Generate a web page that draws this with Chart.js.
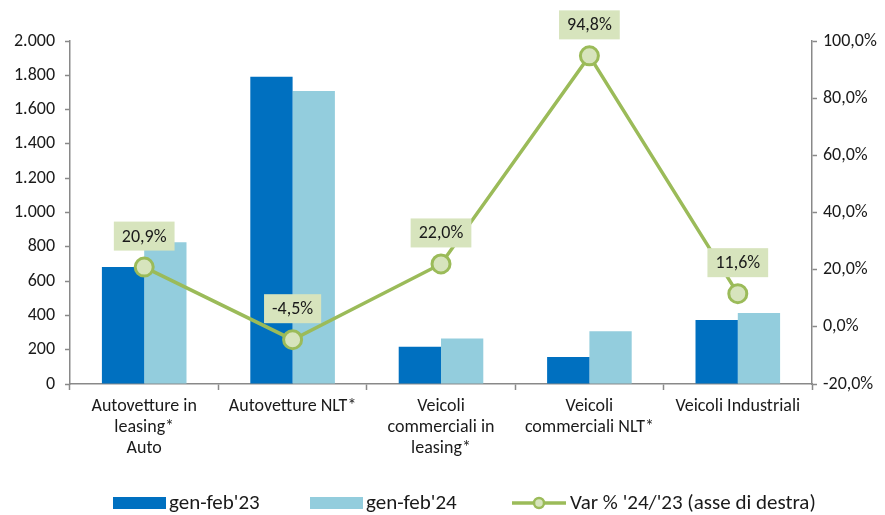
<!DOCTYPE html>
<html>
<head>
<meta charset="utf-8">
<script src="https://cdn.jsdelivr.net/npm/chart.js@4.4.1/dist/chart.umd.min.js"></script>
<style>
  html, body { margin: 0; padding: 0; background: #fff; }
  #wrap { width: 885px; height: 515px; }
</style>
</head>
<body>
<div id="wrap"><canvas id="chart" width="885" height="515"></canvas></div>
<script>
// Data
const categories = [
    ["Autovetture in", "leasing*", "Auto"],
    ["Autovetture NLT*"],
    ["Veicoli", "commerciali in", "leasing*"],
    ["Veicoli", "commerciali NLT*"],
    ["Veicoli Industriali"]
];
const gen23 = [682, 1792, 217, 157, 373];
const gen24 = [826, 1708, 266, 307, 414];
const varPct = [20.9, -4.5, 22.0, 94.8, 11.6];
const seriesNames = ["gen-feb'23", "gen-feb'24", "Var % '24/'23 (asse di destra)"];

const FONT = "Carlito, Lato, 'Open Sans', sans-serif";
const DARK = '#0070C0';
const LIGHT = '#93CDDD';
const GREEN = '#9BBB59';
const PALE = '#D7E4BD';
const AXIS = '#898989';

function fmtThousands(v) {
    return String(v).replace(/\B(?=(\d{3})+(?!\d))/g, '.');
}
function fmtPct(v, d) {
    return v.toFixed(d).replace('.', ',') + '%';
}

// Labels above the line points
const pctLabels = {
    id: 'pctLabels',
    afterDatasetsDraw(chart) {
        const ctx = chart.ctx;
        const meta = chart.getDatasetMeta(0);
        ctx.save();
        ctx.font = '18px ' + FONT;
        ctx.textAlign = 'center';
        ctx.textBaseline = 'middle';
        meta.data.forEach((pt, i) => {
            const txt = fmtPct(varPct[i], 1);
            const w = ctx.measureText(txt).width + 16;
            const h = 29;
            const cx = pt.x, cy = pt.y - 31;
            ctx.fillStyle = PALE;
            ctx.fillRect(cx - w / 2, cy - h / 2, w, h);
            ctx.fillStyle = '#1a1a1a';
            ctx.fillText(txt, cx, cy + 1);
        });
        ctx.restore();
    }
};

// Legend along the bottom
const bottomLegend = {
    id: 'bottomLegend',
    afterDraw(chart) {
        const ctx = chart.ctx;
        const y = 503;
        ctx.save();
        ctx.font = '21px ' + FONT;
        ctx.textBaseline = 'middle';
        ctx.fillStyle = DARK;
        ctx.fillRect(113, y - 6, 53, 12);
        ctx.fillStyle = LIGHT;
        ctx.fillRect(310, y - 6, 53, 12);
        ctx.strokeStyle = GREEN;
        ctx.lineWidth = 3.5;
        ctx.beginPath();
        ctx.moveTo(512, y);
        ctx.lineTo(566, y);
        ctx.stroke();
        ctx.beginPath();
        ctx.arc(539, y, 5, 0, Math.PI * 2);
        ctx.fillStyle = PALE;
        ctx.fill();
        ctx.lineWidth = 2.5;
        ctx.stroke();
        ctx.fillStyle = '#1a1a1a';
        ctx.fillText(seriesNames[0], 169, y + 1);
        ctx.fillText(seriesNames[1], 366, y + 1);
        ctx.fillText(seriesNames[2], 570, y + 1);
        ctx.restore();
    }
};

new Chart(document.getElementById('chart'), {
    data: {
        labels: categories,
        datasets: [
            {
                type: 'line',
                label: seriesNames[2],
                data: varPct,
                yAxisID: 'y2',
                borderColor: GREEN,
                borderWidth: 3.5,
                pointRadius: 9,
                pointBorderWidth: 3,
                pointBackgroundColor: PALE,
                pointBorderColor: GREEN,
                tension: 0,
                order: 0
            },
            {
                type: 'bar',
                label: seriesNames[0],
                data: gen23,
                backgroundColor: DARK,
                yAxisID: 'y',
                categoryPercentage: 0.57,
                barPercentage: 1,
                order: 1
            },
            {
                type: 'bar',
                label: seriesNames[1],
                data: gen24,
                backgroundColor: LIGHT,
                yAxisID: 'y',
                categoryPercentage: 0.57,
                barPercentage: 1,
                order: 2
            }
        ]
    },
    options: {
        responsive: false,
        animation: false,
        devicePixelRatio: 1,
        layout: { padding: { top: 41, left: 0, right: 0, bottom: 0 } },
        plugins: {
            legend: { display: false },
            tooltip: { enabled: false }
        },
        scales: {
            x: {
                offset: true,
                grid: { offset: true, drawOnChartArea: false, color: AXIS, tickLength: 6, tickWidth: 1.5 },
                border: { color: AXIS, width: 1.5 },
                ticks: { color: '#1a1a1a', font: { size: 18, family: FONT, lineHeight: 1.17 }, maxRotation: 0, autoSkip: false, padding: 6 },
                afterFit(s) { s.height = 131; }
            },
            y: {
                position: 'left',
                min: 0, max: 2000,
                ticks: { stepSize: 200, color: '#1a1a1a', font: { size: 18, family: FONT }, padding: 10,
                    callback: v => fmtThousands(v) },
                grid: { drawOnChartArea: false, color: AXIS, tickLength: 5, tickWidth: 1.5 },
                border: { color: AXIS, width: 1.5 },
                afterFit(s) { s.width = 70; }
            },
            y2: {
                position: 'right',
                min: -20, max: 100,
                ticks: { stepSize: 20, color: '#1a1a1a', font: { size: 18, family: FONT }, padding: 6,
                    callback: v => fmtPct(v, 1) },
                grid: { drawOnChartArea: false, color: AXIS, tickLength: 5, tickWidth: 1.5 },
                border: { color: AXIS, width: 1.5 },
                afterFit(s) { s.width = 73; }
            }
        }
    },
    plugins: [pctLabels, bottomLegend]
});
</script>
</body>
</html>
